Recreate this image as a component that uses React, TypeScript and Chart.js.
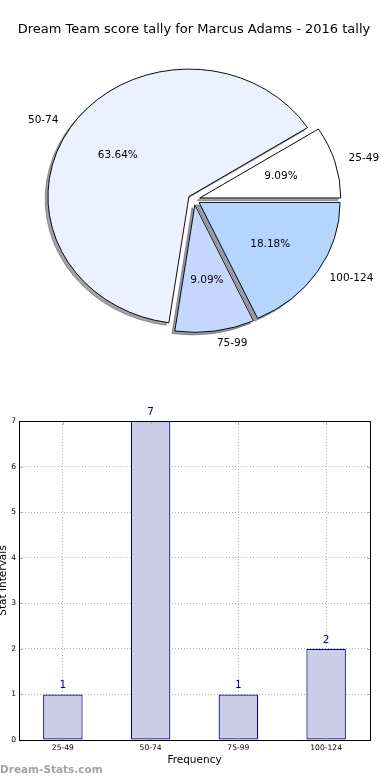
import React, { useEffect, useRef } from 'react';
import { Chart, registerables } from 'chart.js';

Chart.register(...registerables);

const FONT = "'DejaVu Sans', 'Liberation Sans', sans-serif";

const TITLE = 'Dream Team score tally for Marcus Adams - 2016 tally';
const CATEGORIES = ['25-49', '50-74', '75-99', '100-124'];
const COUNTS = [1, 7, 1, 2];
const PIE_COLORS = ['#ffffff', '#ebf1ff', '#c5d6ff', '#b3d5ff'];
const Y_MIN = 0;
const Y_MAX = 7;
const Y_STEP = 1;
const X_TITLE = 'Frequency';
const Y_TITLE = 'Stat Intervals';
const WATERMARK = 'Dream-Stats.com';

const ELLIPSE = 127.5 / 141;
const EXPLODE = 6;
const SHADOW = 2.8;

function hexToRgb(h: string) {
  const v = h.replace('#', '');
  return [parseInt(v.slice(0, 2), 16), parseInt(v.slice(2, 4), 16), parseInt(v.slice(4, 6), 16)];
}

const piePlugin = {
  id: 'mplPie',
  beforeDatasetsDraw(chart: any) {
    const ctx = chart.ctx as CanvasRenderingContext2D;
    const meta = chart.getDatasetMeta(0);
    const arcs = meta.data as any[];
    const ds = chart.data.datasets[0];
    const total = (ds.data as number[]).reduce((a, b) => a + b, 0);
    const cx = arcs[0].x;
    const cy = arcs[0].y;
    ctx.save();
    ctx.translate(cx, cy);
    ctx.scale(1, ELLIPSE);
    ctx.translate(-cx, -cy);
    arcs.forEach((arc, i) => {
      const mid = (arc.startAngle + arc.endAngle) / 2;
      const ox = Math.cos(mid) * EXPLODE - SHADOW;
      const oy = Math.sin(mid) * EXPLODE + SHADOW;
      const [r, g, b] = hexToRgb(ds.backgroundColor[i]);
      const col = `rgba(${Math.round(r * 0.3)},${Math.round(g * 0.3)},${Math.round(b * 0.3)},0.5)`;
      ctx.fillStyle = col;
      ctx.strokeStyle = col;
      ctx.lineWidth = 1;
      ctx.beginPath();
      ctx.moveTo(arc.x + ox, arc.y + oy);
      ctx.arc(arc.x + ox, arc.y + oy, arc.outerRadius, arc.startAngle, arc.endAngle);
      ctx.closePath();
      ctx.fill();
      ctx.stroke();
    });
    arcs.forEach((arc) => {
      const mid = (arc.startAngle + arc.endAngle) / 2;
      ctx.save();
      ctx.translate(Math.cos(mid) * EXPLODE, Math.sin(mid) * EXPLODE);
      arc.draw(ctx);
      ctx.restore();
    });
    ctx.restore();

    ctx.save();
    ctx.font = `10.5px ${FONT}`;
    ctx.fillStyle = '#000';
    ctx.textBaseline = 'middle';
    arcs.forEach((arc, i) => {
      const mid = (arc.startAngle + arc.endAngle) / 2;
      const c = Math.cos(mid);
      const s = Math.sin(mid);
      const ax = arc.x + c * EXPLODE;
      const ay = arc.y + s * EXPLODE * ELLIPSE;
      const R = arc.outerRadius;
      ctx.textAlign = c > 0 ? 'left' : 'right';
      ctx.fillText(chart.data.labels[i], ax + 1.1 * R * c, ay + 1.1 * R * s * ELLIPSE);
      ctx.textAlign = 'center';
      const pct = ((ds.data[i] / total) * 100).toFixed(2) + '%';
      ctx.fillText(pct, ax + 0.6 * R * c, ay + 0.6 * R * s * ELLIPSE);
    });
    ctx.restore();
    return false;
  },
};

const barPlugin = {
  id: 'mplBar',
  afterDatasetsDraw(chart: any) {
    const ctx = chart.ctx as CanvasRenderingContext2D;
    const a = chart.chartArea;
    const xs = chart.scales.x;
    const ys = chart.scales.y;
    const L = Math.round(a.left) + 0.5;
    const R = Math.round(a.right) + 0.5;
    const T = Math.round(a.top) + 0.5;
    const B = Math.round(a.bottom) + 0.5;
    ctx.save();
    // inward ticks
    ctx.strokeStyle = '#aaaaaa';
    ctx.lineWidth = 1;
    ctx.beginPath();
    ys.ticks.forEach((t: any) => {
      const y = Math.round(ys.getPixelForValue(t.value)) + 0.5;
      ctx.moveTo(L, y); ctx.lineTo(L + 3, y);
      ctx.moveTo(R, y); ctx.lineTo(R - 3, y);
    });
    CATEGORIES.forEach((_, i) => {
      const x = Math.round(xs.getPixelForValue(i)) + 0.5;
      ctx.moveTo(x, T); ctx.lineTo(x, T + 3);
      ctx.moveTo(x, B); ctx.lineTo(x, B - 3);
    });
    ctx.stroke();
    // frame
    ctx.strokeStyle = '#000';
    ctx.strokeRect(L, T, R - L, B - T);
    // value labels
    const meta = chart.getDatasetMeta(0);
    ctx.fillStyle = '#000080';
    ctx.font = `10.5px ${FONT}`;
    ctx.textAlign = 'center';
    ctx.textBaseline = 'middle';
    meta.data.forEach((bar: any, i: number) => {
      ctx.fillText(String(chart.data.datasets[0].data[i]), bar.x, bar.y - 9);
    });
    ctx.restore();
  },
  afterDraw(chart: any) {
    const ctx = chart.ctx as CanvasRenderingContext2D;
    ctx.save();
    ctx.font = `bold 10.5px ${FONT}`;
    ctx.fillStyle = '#a3a3a3';
    ctx.textAlign = 'left';
    ctx.textBaseline = 'middle';
    ctx.fillText(WATERMARK, 0, 390);
    ctx.restore();
  },
};

export default function App() {
  const pieRef = useRef<HTMLCanvasElement>(null);
  const barRef = useRef<HTMLCanvasElement>(null);

  useEffect(() => {
    document.body.style.margin = '0';
    Chart.defaults.font.family = FONT;

    const pieLabels = [...CATEGORIES].reverse();
    const pieData = [...COUNTS].reverse();
    const pieColors = [...PIE_COLORS].reverse();

    const pie = new Chart(pieRef.current as HTMLCanvasElement, {
      type: 'pie',
      data: {
        labels: pieLabels,
        datasets: [
          {
            data: pieData,
            backgroundColor: pieColors,
            borderColor: '#000',
            borderWidth: 1,
            borderJoinStyle: 'miter',
          } as any,
        ],
      },
      options: {
        responsive: false,
        animation: false,
        events: [],
        rotation: 90,
        layout: { padding: { left: 0, right: 2, top: 0, bottom: 39 } },
        plugins: {
          legend: { display: false },
          tooltip: { enabled: false },
          title: {
            display: true,
            text: TITLE,
            color: '#000',
            font: { family: FONT, size: 13, weight: 'normal' },
            padding: { top: 22, bottom: 20.4 },
          },
        },
      } as any,
      plugins: [piePlugin],
    });

    const grid = { color: '#b0b0b0', lineWidth: 1, drawTicks: false };
    const bar = new Chart(barRef.current as HTMLCanvasElement, {
      type: 'bar',
      data: {
        labels: CATEGORIES,
        datasets: [
          {
            data: COUNTS,
            backgroundColor: '#ccccE6',
            borderColor: '#000080',
            borderWidth: 1.2,
            borderSkipped: false,
            barPercentage: 0.45,
            categoryPercentage: 1,
          } as any,
        ],
      },
      options: {
        responsive: false,
        animation: false,
        events: [],
        layout: { padding: { left: 0, right: 20, top: 41, bottom: 0 } },
        plugins: { legend: { display: false }, tooltip: { enabled: false } },
        scales: {
          x: {
            offset: true,
            grid: { ...grid, offset: false },
            border: { display: false, dash: [1, 2] },
            ticks: { color: '#000', font: { family: FONT, size: 7.6 }, padding: 3, maxRotation: 0, autoSkip: false },
            title: {
              display: true,
              text: X_TITLE,
              color: '#000',
              font: { family: FONT, size: 10.5 },
              padding: { top: 0, bottom: 13.7 },
            },
            afterFit: (s: any) => { s.height = 40; },
          },
          y: {
            min: Y_MIN,
            max: Y_MAX,
            grid: { ...grid },
            border: { display: false, dash: [1, 2] },
            ticks: { stepSize: Y_STEP, color: '#000', font: { family: FONT, size: 7.6 }, padding: 3 },
            title: {
              display: true,
              text: Y_TITLE,
              color: '#000',
              font: { family: FONT, size: 10.5 },
              padding: { top: -2.8, bottom: 0 },
            },
            afterFit: (s: any) => { s.width = 19; },
          },
        },
      } as any,
      plugins: [barPlugin],
    });

    return () => {
      pie.destroy();
      bar.destroy();
    };
  }, []);

  return (
    <div style={{ position: 'relative', width: 390, height: 780, background: '#fff' }}>
      <canvas ref={pieRef} width={390} height={380} style={{ position: 'absolute', left: 0, top: 0 }} />
      <canvas ref={barRef} width={390} height={400} style={{ position: 'absolute', left: 0, top: 380 }} />
    </div>
  );
}
